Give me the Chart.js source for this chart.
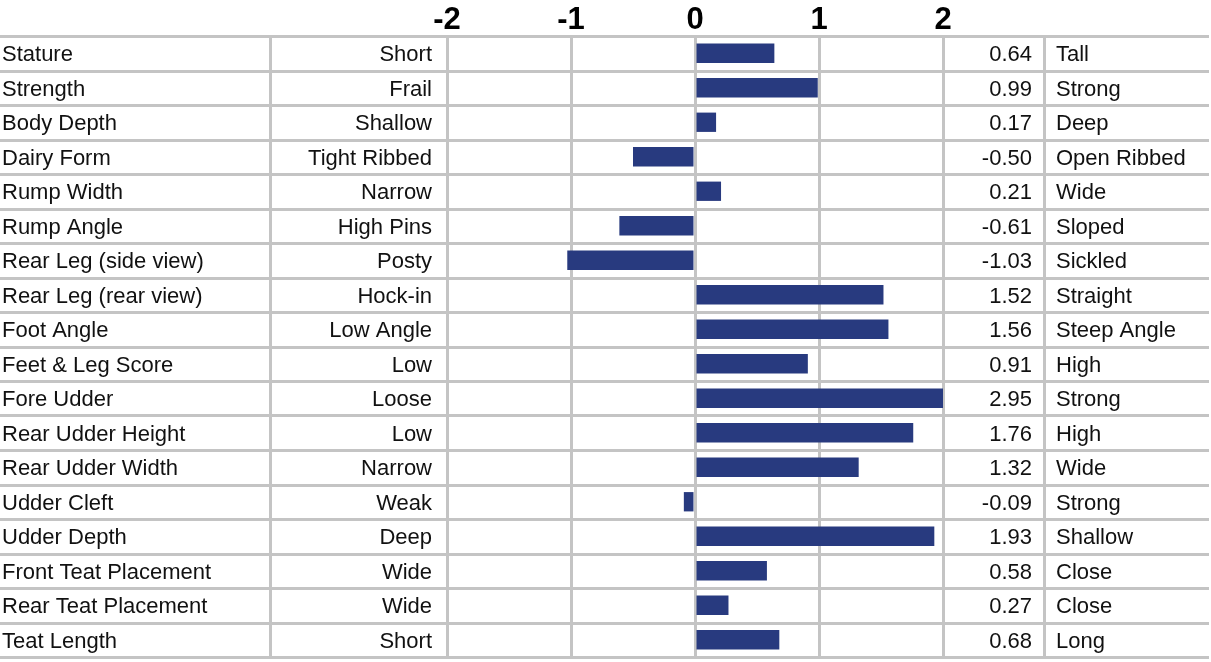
<!DOCTYPE html>
<html>
<head>
<meta charset="utf-8">
<script src="https://cdn.jsdelivr.net/npm/chart.js@4"></script>
<style>
  body { margin: 0; background: #fff; }
</style>
</head>
<body>
<canvas id="traitChart" width="1211" height="662"></canvas>
<script>
// linear type traits
const traits = [
  "Stature", "Strength", "Body Depth", "Dairy Form", "Rump Width", "Rump Angle",
  "Rear Leg (side view)", "Rear Leg (rear view)", "Foot Angle", "Feet & Leg Score",
  "Fore Udder", "Rear Udder Height", "Rear Udder Width", "Udder Cleft", "Udder Depth",
  "Front Teat Placement", "Rear Teat Placement", "Teat Length",
];
const lowLabels = [
  "Short", "Frail", "Shallow", "Tight Ribbed", "Narrow", "High Pins", "Posty",
  "Hock-in", "Low Angle", "Low", "Loose", "Low", "Narrow", "Weak", "Deep",
  "Wide", "Wide", "Short",
];
const highLabels = [
  "Tall", "Strong", "Deep", "Open Ribbed", "Wide", "Sloped", "Sickled",
  "Straight", "Steep Angle", "High", "Strong", "High", "Wide", "Strong", "Shallow",
  "Close", "Close", "Long",
];
const values = [
  0.64, 0.99, 0.17, -0.50, 0.21, -0.61, -1.03, 1.52, 1.56, 0.91,
  2.95, 1.76, 1.32, -0.09, 1.93, 0.58, 0.27, 0.68,
];
const axisMin = -2;
const axisMax = 2;

const gridColor = "#c4c4c4";
const barColor = "#283a7f";

Chart.defaults.font.family = "'Liberation Sans', Arial, sans-serif";
Chart.defaults.font.size = 22;
Chart.defaults.color = "#111";

// row separators across the whole table + column line before the pole labels
const rowLines = {
  id: "rowLines",
  beforeDatasetsDraw(chart) {
    const { ctx, chartArea, scales } = chart;
    const y = scales.y;
    const right = scales.yHigh.right;
    const step = y.getPixelForValue(1) - y.getPixelForValue(0);
    ctx.save();
    ctx.strokeStyle = gridColor;
    ctx.lineWidth = 3;
    ctx.beginPath();
    for (let i = 0; i <= traits.length; i++) {
      const py = Math.round(y.getPixelForValue(i) - step / 2) + 0.5;
      ctx.moveTo(0, py);
      ctx.lineTo(right, py);
    }
    const sx = scales.yHigh.left + 12.5;
    ctx.moveTo(sx, chartArea.top);
    ctx.lineTo(sx, chartArea.bottom);
    ctx.stroke();
    ctx.restore();
  },
};

// fixed column widths, and no extra top/bottom padding from tick labels
const fixWidth = (w) => (scale) => {
  scale.width = w;
  scale.paddingTop = 0;
  scale.paddingBottom = 0;
};

const ctx = document.getElementById("traitChart").getContext("2d");
const traitChart = new Chart(ctx, {
  type: "bar",
  data: {
    labels: traits,
    datasets: [
      {
        data: values,
        backgroundColor: barColor,
        borderWidth: 0,
        categoryPercentage: 1,
        barPercentage: 0.56,
      },
    ],
  },
  options: {
    indexAxis: "y",
    responsive: false,
    animation: false,
    layout: { padding: { top: 0, left: 2, right: 2, bottom: 5 } },
    plugins: { legend: { display: false }, tooltip: { enabled: false } },
    scales: {
      x: {
        position: "top",
        min: axisMin,
        max: axisMax,
        afterFit: (scale) => { scale.height = 36; },
        ticks: {
          stepSize: 1,
          padding: 0,
          color: "#000",
          font: { size: 31, weight: "bold", lineHeight: 1 },
        },
        grid: { color: gridColor, lineWidth: 3, drawTicks: false },
        border: { display: false },
      },
      y: {
        position: "left",
        weight: 2,
        offset: true,
        afterFit: fixWidth(268),
        ticks: { crossAlign: "far", autoSkip: false, labelOffset: 2 },
        grid: { display: false },
        border: { display: true, color: gridColor, width: 3 },
      },
      yLow: {
        type: "category",
        position: "left",
        weight: 1,
        offset: true,
        labels: lowLabels,
        afterFit: fixWidth(177),
        ticks: { crossAlign: "near", padding: 7, autoSkip: false, labelOffset: 2 },
        grid: { display: false },
        border: { display: false },
      },
      yValue: {
        type: "category",
        position: "right",
        weight: 1,
        offset: true,
        labels: values.map((v) => v.toFixed(2)),
        afterFit: fixWidth(89),
        ticks: { crossAlign: "far", autoSkip: false, labelOffset: 2 },
        grid: { display: false },
        border: { display: false },
      },
      yHigh: {
        type: "category",
        position: "right",
        weight: 2,
        offset: true,
        labels: highLabels,
        afterFit: fixWidth(177),
        ticks: { crossAlign: "near", padding: 16, autoSkip: false, labelOffset: 2 },
        grid: { display: false },
        border: { display: false },
      },
    },
  },
  plugins: [rowLines],
});
</script>
</body>
</html>
